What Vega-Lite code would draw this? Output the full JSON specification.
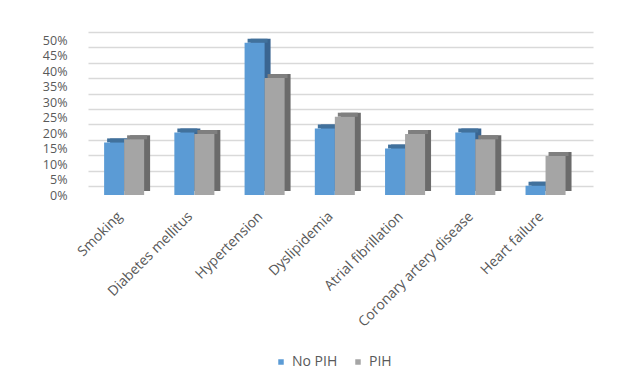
{
  "$schema": "https://vega.github.io/schema/vega-lite/v6.json",
  "autosize": {"type": "none"},
  "width": 505,
  "height": 164,
  "padding": {"left": 88, "top": 31, "right": 28, "bottom": 183},
  "background": "white",
  "config": {
    "view": {"stroke": null},
    "font": "Open Sans",
    "axis": {"labelFont": "Open Sans", "labelColor": "#595959", "labelFontSize": 12.5},
    "legend": {"labelFont": "Open Sans", "labelColor": "#595959", "labelFontSize": 14}
  },
  "data": {
    "values": [
      {"factor": "Smoking", "group": "No PIH", "value": 17},
      {"factor": "Smoking", "group": "PIH", "value": 18},
      {"factor": "Diabetes mellitus", "group": "No PIH", "value": 20.2},
      {"factor": "Diabetes mellitus", "group": "PIH", "value": 19.7},
      {"factor": "Hypertension", "group": "No PIH", "value": 49.2},
      {"factor": "Hypertension", "group": "PIH", "value": 37.8},
      {"factor": "Dyslipidemia", "group": "No PIH", "value": 21.5},
      {"factor": "Dyslipidemia", "group": "PIH", "value": 25.3},
      {"factor": "Atrial fibrillation", "group": "No PIH", "value": 15},
      {"factor": "Atrial fibrillation", "group": "PIH", "value": 19.7},
      {"factor": "Coronary artery disease", "group": "No PIH", "value": 20.2},
      {"factor": "Coronary artery disease", "group": "PIH", "value": 18},
      {"factor": "Heart failure", "group": "No PIH", "value": 3},
      {"factor": "Heart failure", "group": "PIH", "value": 12.6}
    ]
  },
  "encoding": {
    "x": {
      "field": "factor", "type": "nominal", "sort": null, "title": null,
      "scale": {"paddingInner": 0.43, "paddingOuter": 0.31, "align": 0.37},
      "axis": {"labelAngle": -45, "labelAlign": "right", "labelBaseline": "middle", "labelPadding": 19, "labelOffset": -4, "labelFontSize": 14, "domain": false, "ticks": false}
    }
  },
  "layer": [
    {
      "mark": {"type": "bar", "opacity": 0},
      "encoding": {
        "y": {
          "field": "value", "type": "quantitative",
          "scale": {"domain": [-2.8, 50.2], "nice": false, "zero": false},
          "axis": {"orient": "left", "title": null, "labels": false, "ticks": false, "domain": false, "grid": true, "gridColor": "#d9d9d9", "gridWidth": 1.5, "values": [0, 5, 10, 15, 20, 25, 30, 35, 40, 45, 50]}
        }
      }
    },
    {
      "encoding": {
        "y": {
          "field": "value", "type": "quantitative",
          "scale": {"domain": [0, 53], "nice": false},
          "axis": {"orient": "left", "title": null, "grid": false, "domain": false, "ticks": false, "labelPadding": 21, "values": [0, 5, 10, 15, 20, 25, 30, 35, 40, 45, 50], "labelExpr": "datum.value + '%'"}
        }
      },
      "layer": [
        {
          "mark": {"type": "bar", "yOffset": -4},
          "encoding": {
            "xOffset": {"field": "group", "type": "nominal", "scale": {"range": [6, 46], "paddingInner": 0, "paddingOuter": 0}},
            "color": {"condition": {"test": "datum.group === 'PIH'", "value": "#6b6b6b"}, "value": "#3a6591"}
          }
        },
        {
          "mark": {"type": "bar", "yOffset": -4, "y2Offset": 0},
          "encoding": {
            "xOffset": {"field": "group", "type": "nominal", "scale": {"range": [3, 43], "paddingInner": 0, "paddingOuter": 0}},
            "y2": {"field": "value"},
            "color": {"condition": {"test": "datum.group === 'PIH'", "value": "#7f7f7f"}, "value": "#41719c"}
          }
        },
        {
          "mark": {"type": "bar"},
          "encoding": {
            "xOffset": {"field": "group", "type": "nominal", "scale": {"paddingInner": 0, "paddingOuter": 0}},
            "color": {
              "field": "group", "type": "nominal", "title": null,
              "scale": {"domain": ["No PIH", "PIH"], "range": ["#5b9bd5", "#a5a5a5"]},
              "legend": {"orient": "none", "legendX": 186, "legendY": 324, "direction": "horizontal", "symbolType": "square", "symbolSize": 30, "symbolStrokeWidth": 0, "labelOffset": 4, "columnPadding": 13}
            }
          }
        }
      ],
      "resolve": {"scale": {"y": "shared", "xOffset": "independent"}, "axis": {"y": "shared"}}
    }
  ],
  "resolve": {"scale": {"y": "independent"}, "axis": {"y": "independent"}}
}
